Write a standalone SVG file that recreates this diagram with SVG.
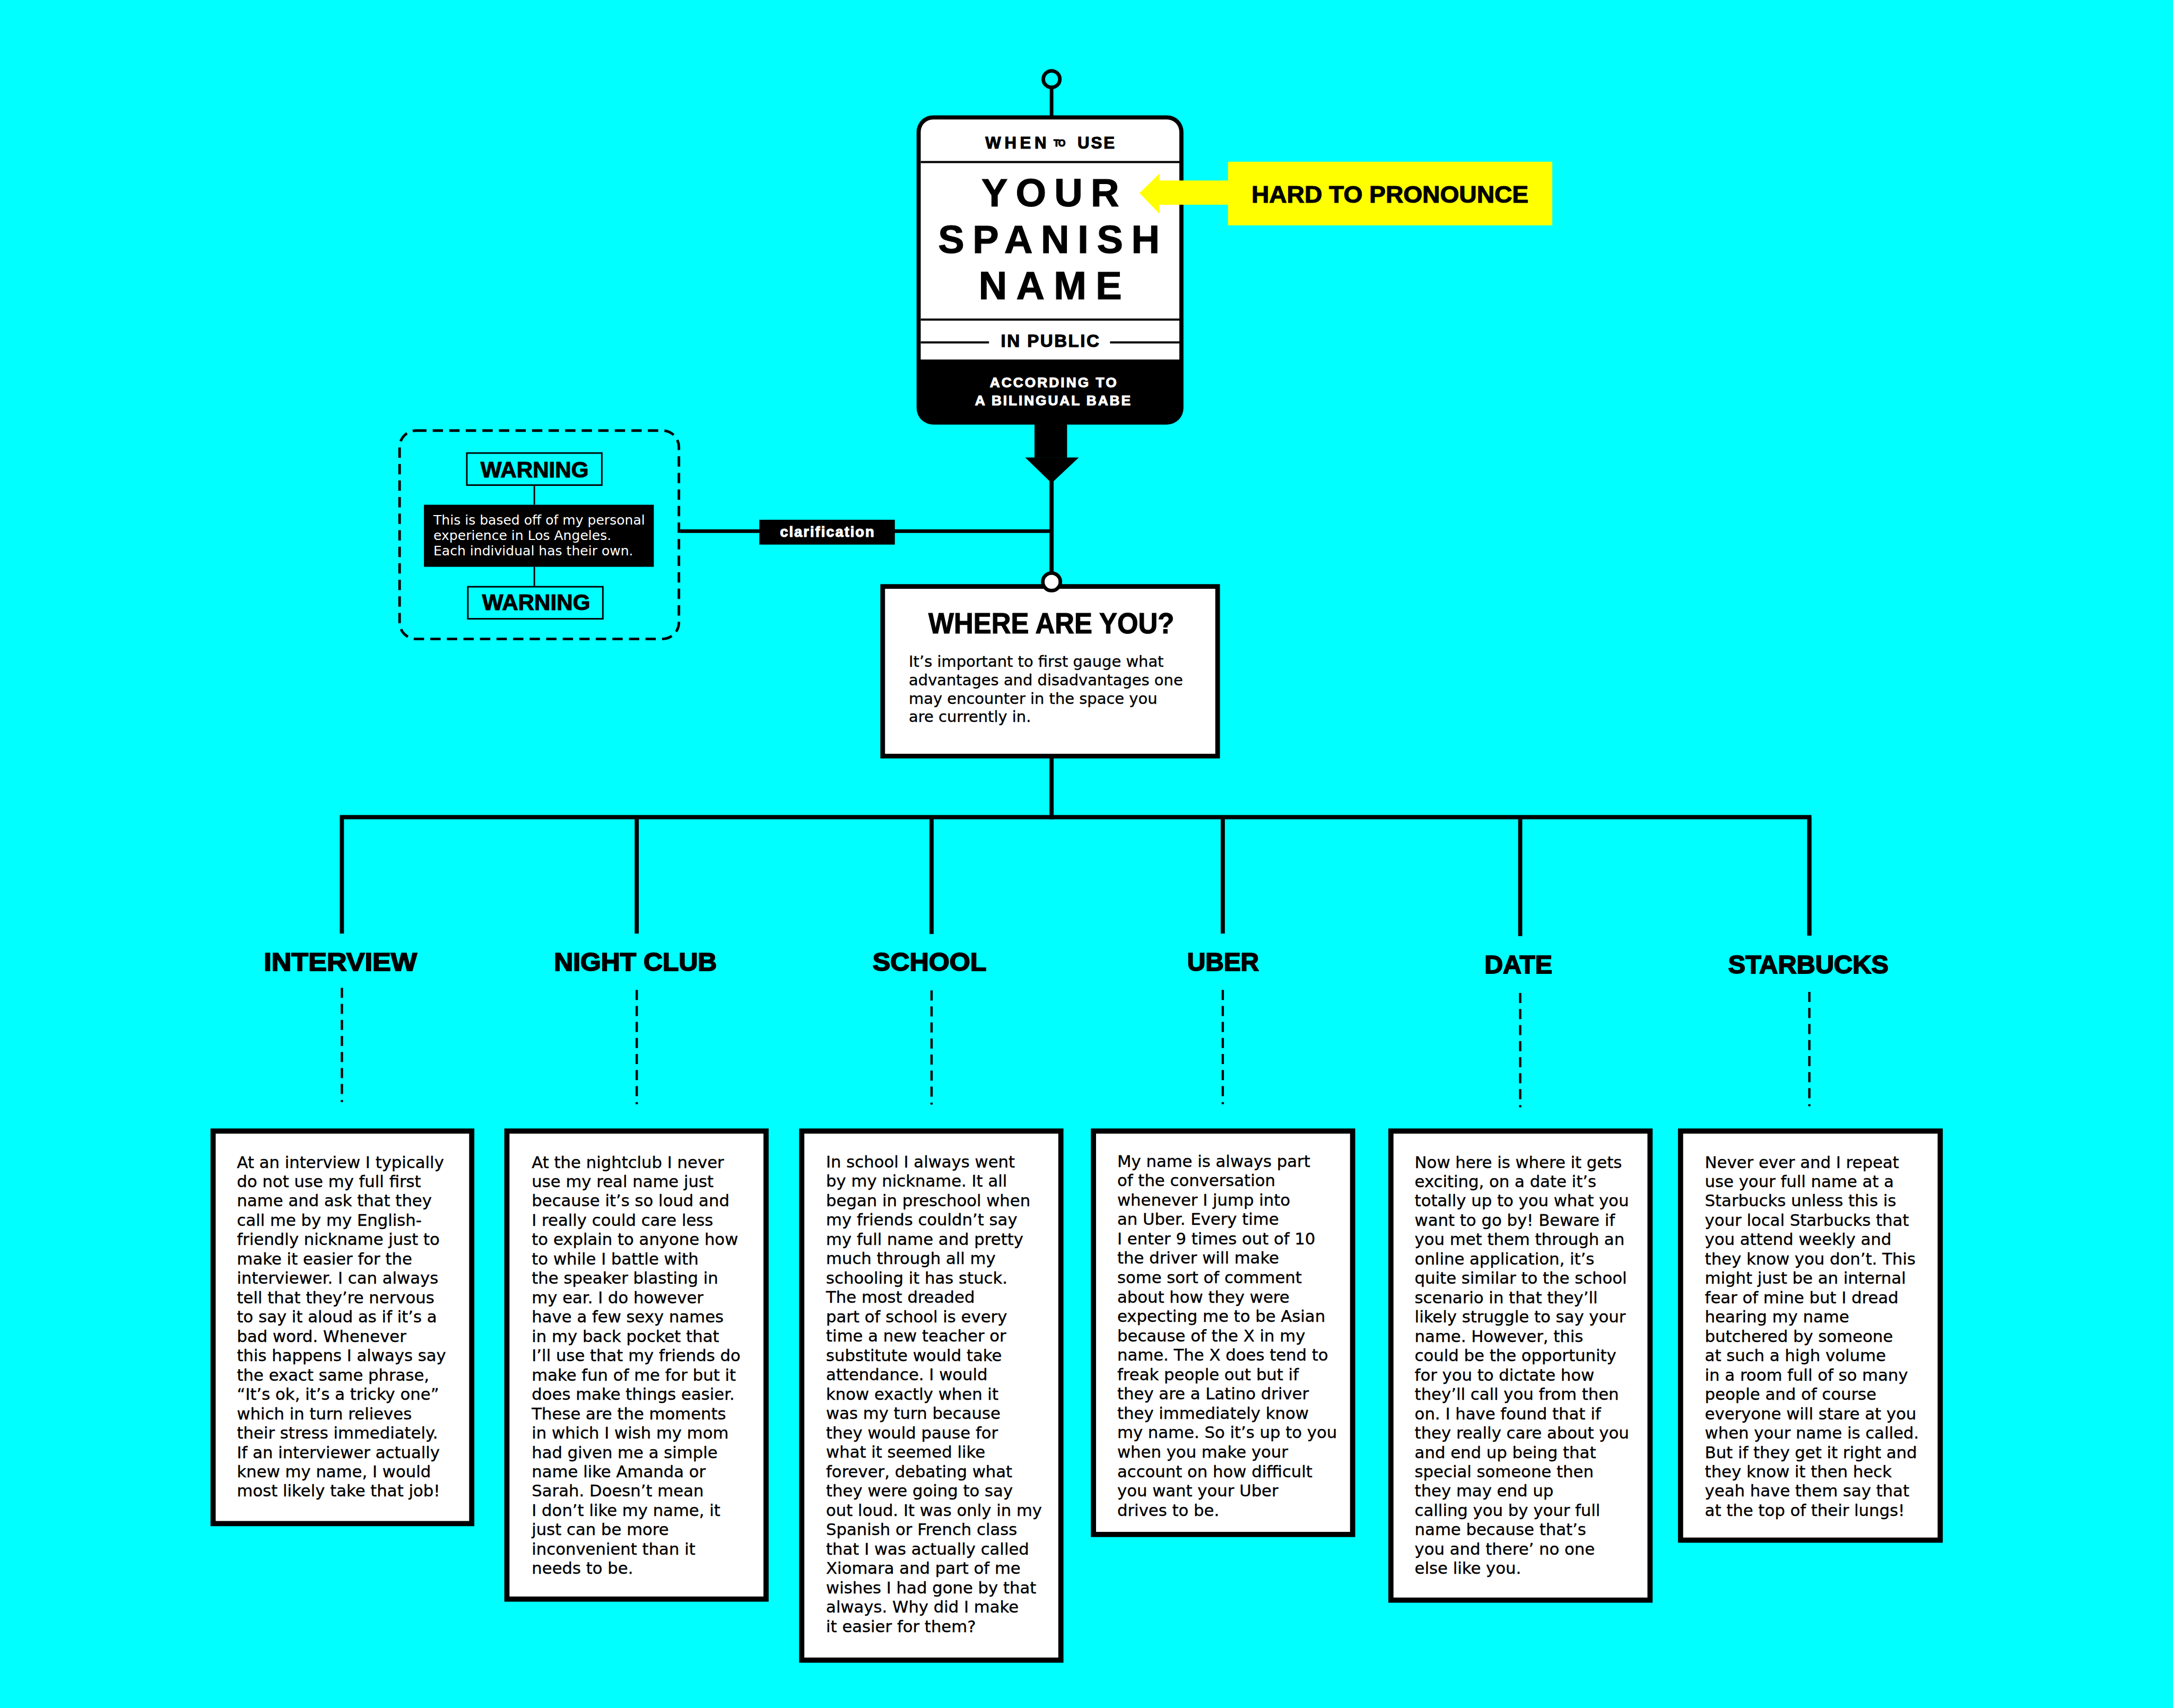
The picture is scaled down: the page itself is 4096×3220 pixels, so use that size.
<svg xmlns="http://www.w3.org/2000/svg" width="4096" height="3220" viewBox="0 0 4096 3220">
<style>
.ln{stroke:#000;fill:none}
.dash{stroke:#000;stroke-width:4.5;stroke-dasharray:19.5 11.5;fill:none}
.box{fill:#fff;stroke:#000;stroke-width:10}
.body{font-family:"DejaVu Sans","Liberation Sans",sans-serif;font-size:31.5px;fill:#000;stroke:#000;stroke-width:0.4}
.wb{font-family:"DejaVu Sans","Liberation Sans",sans-serif;font-size:25.7px;fill:#fff}
.wy{font-family:"DejaVu Sans","Liberation Sans",sans-serif;font-size:29.7px;fill:#000;stroke:#000;stroke-width:0.4}
.hd{font-family:"Liberation Sans",Arial,sans-serif;font-weight:bold;fill:#000;stroke:#000;stroke-width:1.2}
.lbl{font-family:"Liberation Sans",Arial,sans-serif;font-weight:bold;font-size:50px;fill:#000;stroke:#000;stroke-width:2}
.wh{fill:#fff;stroke:#fff}
</style>
<rect width="4096" height="3220" fill="#00FFFF"/>
<g transform="scale(0.975)">
<g id="connectors">
  <line class="ln" stroke-width="7" x1="2033" y1="169" x2="2033" y2="226"/>
  <line class="ln" stroke-width="8" x1="2033" y1="900" x2="2033" y2="1584"/>
  <line class="ln" stroke-width="7" x1="1315" y1="1027" x2="2033" y2="1027"/>
  <path class="ln" stroke-width="8" d="M661,1805 V1580 H3498 V1809"/>
  <line class="ln" stroke-width="8" x1="1231" y1="1580" x2="1231" y2="1805"/>
  <line class="ln" stroke-width="8" x1="1801" y1="1580" x2="1801" y2="1806"/>
  <line class="ln" stroke-width="8" x1="2364" y1="1580" x2="2364" y2="1805"/>
  <line class="ln" stroke-width="8" x1="2939" y1="1580" x2="2939" y2="1810"/>
  <line class="dash" x1="661" y1="1910" x2="661" y2="2131"/>
  <line class="dash" x1="1231" y1="1914" x2="1231" y2="2135"/>
  <line class="dash" x1="1801" y1="1915" x2="1801" y2="2136"/>
  <line class="dash" x1="2364" y1="1914" x2="2364" y2="2135"/>
  <line class="dash" x1="2939" y1="1920" x2="2939" y2="2141"/>
  <line class="dash" x1="3498" y1="1918" x2="3498" y2="2139"/>
</g>
<g id="sign">
  <circle cx="2033" cy="153" r="16" fill="none" stroke="#000" stroke-width="7"/>
  <rect x="1772" y="223" width="516" height="598" rx="32" fill="#000"/>
  <path d="M1780,695 V255 A24,24 0 0 1 1804,231 H2256 A24,24 0 0 1 2280,255 V695 Z" fill="#fff"/>
  <line class="ln" stroke-width="4" x1="1780" y1="313.4" x2="2280" y2="313.4"/>
  <line class="ln" stroke-width="4" x1="1780" y1="618" x2="2280" y2="618"/>
  <line class="ln" stroke-width="4" x1="1780" y1="662" x2="1912" y2="662"/>
  <line class="ln" stroke-width="4" x1="2146" y1="662" x2="2280" y2="662"/>
  <text class="hd" font-size="32" x="1905" y="287" textLength="118" lengthAdjust="spacing">WHEN</text>
  <text class="hd" font-size="18" x="2037" y="283" textLength="23" lengthAdjust="spacing">TO</text>
  <text class="hd" font-size="32" x="2083" y="287" textLength="72" lengthAdjust="spacing">USE</text>
  <text class="hd" font-size="76" stroke-width="2.5" x="1897.5" y="399" textLength="266" lengthAdjust="spacing">YOUR</text>
  <text class="hd" font-size="76" stroke-width="2.5" x="1813.6" y="489.6" textLength="428.6" lengthAdjust="spacing">SPANISH</text>
  <text class="hd" font-size="76" stroke-width="2.5" x="1892" y="578.6" textLength="277" lengthAdjust="spacing">NAME</text>
  <text class="hd" font-size="34" x="1935" y="671" textLength="190" lengthAdjust="spacing">IN PUBLIC</text>
  <text class="hd wh" font-size="27" x="1913.6" y="748.5" textLength="245" lengthAdjust="spacing">ACCORDING TO</text>
  <text class="hd wh" font-size="27" x="1885" y="784" textLength="300.7" lengthAdjust="spacing">A BILINGUAL BABE</text>
  <rect x="2000" y="815" width="63" height="70" fill="#000"/>
  <polygon points="1982,884.5 2085.7,884.5 2033,934" fill="#000"/>
</g>
<g id="hard-to-pronounce">
  <rect x="2374" y="312.7" width="627" height="123" fill="#FFFF00"/>
  <polygon points="2203,373.3 2241.6,335.7 2241.6,349 2376,349 2376,396 2241.6,396 2241.6,413.3" fill="#FFFF00"/>
  <text class="hd" font-size="46" x="2419.4" y="391.7" textLength="535.6" lengthAdjust="spacingAndGlyphs">HARD TO PRONOUNCE</text>
</g>
<g id="warning">
  <rect x="772.5" y="832.5" width="540" height="403" rx="32" fill="none" stroke="#000" stroke-width="5" stroke-dasharray="20 12"/>
  <rect x="902.5" y="876" width="261" height="62" fill="none" stroke="#000" stroke-width="3"/>
  <text class="hd" font-size="44" x="929" y="923" textLength="209" lengthAdjust="spacingAndGlyphs">WARNING</text>
  <line class="ln" stroke-width="3" x1="1033" y1="938" x2="1033" y2="976"/>
  <rect x="819.6" y="976" width="444.4" height="120" fill="#000"/>
  <text class="wb" x="838" y="1014">This is based off of my personal</text>
  <text class="wb" x="838" y="1044.3">experience in Los Angeles.</text>
  <text class="wb" x="838" y="1073.5">Each individual has their own.</text>
  <line class="ln" stroke-width="3" x1="1033" y1="1096" x2="1033" y2="1134"/>
  <rect x="904.5" y="1134.5" width="261" height="62" fill="none" stroke="#000" stroke-width="3"/>
  <text class="hd" font-size="44" x="932" y="1180" textLength="209" lengthAdjust="spacingAndGlyphs">WARNING</text>
</g>
<g id="clarification">
  <rect x="1468" y="1005" width="262" height="48" fill="#000"/>
  <text class="hd wh" font-size="28" x="1508" y="1038" textLength="182" lengthAdjust="spacing">clarification</text>
</g>
<g id="where-are-you">
  <rect x="1706.5" y="1134" width="647.5" height="328" fill="#fff" stroke="#000" stroke-width="9"/>
  <circle cx="2033" cy="1125" r="17" fill="#fff" stroke="#000" stroke-width="7"/>
  <text class="hd" font-size="56" stroke-width="2" x="1795" y="1225" textLength="475" lengthAdjust="spacingAndGlyphs">WHERE ARE YOU?</text>
  <text class="wy" x="1757" y="1289.7">It’s important to first gauge what</text>
  <text class="wy" x="1757" y="1325.2">advantages and disadvantages one</text>
  <text class="wy" x="1757" y="1360.7">may encounter in the space you</text>
  <text class="wy" x="1757" y="1396.2">are currently in.</text>
</g>
<g id="interview">
  <text class="lbl" x="510" y="1877" textLength="296" lengthAdjust="spacingAndGlyphs">INTERVIEW</text>
  <rect class="box" x="412" y="2187" width="500" height="759"/>
  <text class="body" x="458" y="2258"><tspan x="458" dy="0">At an interview I typically</tspan><tspan x="458" dy="37.4">do not use my full first</tspan><tspan x="458" dy="37.4">name and ask that they</tspan><tspan x="458" dy="37.4">call me by my English-</tspan><tspan x="458" dy="37.4">friendly nickname just to</tspan><tspan x="458" dy="37.4">make it easier for the</tspan><tspan x="458" dy="37.4">interviewer. I can always</tspan><tspan x="458" dy="37.4">tell that they’re nervous</tspan><tspan x="458" dy="37.4">to say it aloud as if it’s a</tspan><tspan x="458" dy="37.4">bad word. Whenever</tspan><tspan x="458" dy="37.4">this happens I always say</tspan><tspan x="458" dy="37.4">the exact same phrase,</tspan><tspan x="458" dy="37.4">“It’s ok, it’s a tricky one”</tspan><tspan x="458" dy="37.4">which in turn relieves</tspan><tspan x="458" dy="37.4">their stress immediately.</tspan><tspan x="458" dy="37.4">If an interviewer actually</tspan><tspan x="458" dy="37.4">knew my name, I would</tspan><tspan x="458" dy="37.4">most likely take that job!</tspan></text>
</g>
<g id="night-club">
  <text class="lbl" x="1071" y="1877" textLength="315" lengthAdjust="spacingAndGlyphs">NIGHT CLUB</text>
  <rect class="box" x="980" y="2187" width="501" height="905"/>
  <text class="body" x="1028" y="2258"><tspan x="1028" dy="0">At the nightclub I never</tspan><tspan x="1028" dy="37.4">use my real name just</tspan><tspan x="1028" dy="37.4">because it’s so loud and</tspan><tspan x="1028" dy="37.4">I really could care less</tspan><tspan x="1028" dy="37.4">to explain to anyone how</tspan><tspan x="1028" dy="37.4">to while I battle with</tspan><tspan x="1028" dy="37.4">the speaker blasting in</tspan><tspan x="1028" dy="37.4">my ear. I do however</tspan><tspan x="1028" dy="37.4">have a few sexy names</tspan><tspan x="1028" dy="37.4">in my back pocket that</tspan><tspan x="1028" dy="37.4">I’ll use that my friends do</tspan><tspan x="1028" dy="37.4">make fun of me for but it</tspan><tspan x="1028" dy="37.4">does make things easier.</tspan><tspan x="1028" dy="37.4">These are the moments</tspan><tspan x="1028" dy="37.4">in which I wish my mom</tspan><tspan x="1028" dy="37.4">had given me a simple</tspan><tspan x="1028" dy="37.4">name like Amanda or</tspan><tspan x="1028" dy="37.4">Sarah. Doesn’t mean</tspan><tspan x="1028" dy="37.4">I don’t like my name, it</tspan><tspan x="1028" dy="37.4">just can be more</tspan><tspan x="1028" dy="37.4">inconvenient than it</tspan><tspan x="1028" dy="37.4">needs to be.</tspan></text>
</g>
<g id="school">
  <text class="lbl" x="1687" y="1877" textLength="220" lengthAdjust="spacingAndGlyphs">SCHOOL</text>
  <rect class="box" x="1550" y="2187" width="501" height="1023"/>
  <text class="body" x="1597" y="2257"><tspan x="1597" dy="0">In school I always went</tspan><tspan x="1597" dy="37.45">by my nickname. It all</tspan><tspan x="1597" dy="37.45">began in preschool when</tspan><tspan x="1597" dy="37.45">my friends couldn’t say</tspan><tspan x="1597" dy="37.45">my full name and pretty</tspan><tspan x="1597" dy="37.45">much through all my</tspan><tspan x="1597" dy="37.45">schooling it has stuck.</tspan><tspan x="1597" dy="37.45">The most dreaded</tspan><tspan x="1597" dy="37.45">part of school is every</tspan><tspan x="1597" dy="37.45">time a new teacher or</tspan><tspan x="1597" dy="37.45">substitute would take</tspan><tspan x="1597" dy="37.45">attendance. I would</tspan><tspan x="1597" dy="37.45">know exactly when it</tspan><tspan x="1597" dy="37.45">was my turn because</tspan><tspan x="1597" dy="37.45">they would pause for</tspan><tspan x="1597" dy="37.45">what it seemed like</tspan><tspan x="1597" dy="37.45">forever, debating what</tspan><tspan x="1597" dy="37.45">they were going to say</tspan><tspan x="1597" dy="37.45">out loud. It was only in my</tspan><tspan x="1597" dy="37.45">Spanish or French class</tspan><tspan x="1597" dy="37.45">that I was actually called</tspan><tspan x="1597" dy="37.45">Xiomara and part of me</tspan><tspan x="1597" dy="37.45">wishes I had gone by that</tspan><tspan x="1597" dy="37.45">always. Why did I make</tspan><tspan x="1597" dy="37.45">it easier for them?</tspan></text>
</g>
<g id="uber">
  <text class="lbl" x="2295" y="1877" textLength="139" lengthAdjust="spacingAndGlyphs">UBER</text>
  <rect class="box" x="2114" y="2187" width="501" height="780"/>
  <text class="body" x="2160" y="2256"><tspan x="2160" dy="0">My name is always part</tspan><tspan x="2160" dy="37.5">of the conversation</tspan><tspan x="2160" dy="37.5">whenever I jump into</tspan><tspan x="2160" dy="37.5">an Uber. Every time</tspan><tspan x="2160" dy="37.5">I enter 9 times out of 10</tspan><tspan x="2160" dy="37.5">the driver will make</tspan><tspan x="2160" dy="37.5">some sort of comment</tspan><tspan x="2160" dy="37.5">about how they were</tspan><tspan x="2160" dy="37.5">expecting me to be Asian</tspan><tspan x="2160" dy="37.5">because of the X in my</tspan><tspan x="2160" dy="37.5">name. The X does tend to</tspan><tspan x="2160" dy="37.5">freak people out but if</tspan><tspan x="2160" dy="37.5">they are a Latino driver</tspan><tspan x="2160" dy="37.5">they immediately know</tspan><tspan x="2160" dy="37.5">my name. So it’s up to you</tspan><tspan x="2160" dy="37.5">when you make your</tspan><tspan x="2160" dy="37.5">account on how difficult</tspan><tspan x="2160" dy="37.5">you want your Uber</tspan><tspan x="2160" dy="37.5">drives to be.</tspan></text>
</g>
<g id="date">
  <text class="lbl" x="2870" y="1882" textLength="131" lengthAdjust="spacingAndGlyphs">DATE</text>
  <rect class="box" x="2689" y="2187" width="501" height="907"/>
  <text class="body" x="2735" y="2258"><tspan x="2735" dy="0">Now here is where it gets</tspan><tspan x="2735" dy="37.4">exciting, on a date it’s</tspan><tspan x="2735" dy="37.4">totally up to you what you</tspan><tspan x="2735" dy="37.4">want to go by! Beware if</tspan><tspan x="2735" dy="37.4">you met them through an</tspan><tspan x="2735" dy="37.4">online application, it’s</tspan><tspan x="2735" dy="37.4">quite similar to the school</tspan><tspan x="2735" dy="37.4">scenario in that they’ll</tspan><tspan x="2735" dy="37.4">likely struggle to say your</tspan><tspan x="2735" dy="37.4">name. However, this</tspan><tspan x="2735" dy="37.4">could be the opportunity</tspan><tspan x="2735" dy="37.4">for you to dictate how</tspan><tspan x="2735" dy="37.4">they’ll call you from then</tspan><tspan x="2735" dy="37.4">on. I have found that if</tspan><tspan x="2735" dy="37.4">they really care about you</tspan><tspan x="2735" dy="37.4">and end up being that</tspan><tspan x="2735" dy="37.4">special someone then</tspan><tspan x="2735" dy="37.4">they may end up</tspan><tspan x="2735" dy="37.4">calling you by your full</tspan><tspan x="2735" dy="37.4">name because that’s</tspan><tspan x="2735" dy="37.4">you and there’ no one</tspan><tspan x="2735" dy="37.4">else like you.</tspan></text>
</g>
<g id="starbucks">
  <text class="lbl" x="3341" y="1882" textLength="310" lengthAdjust="spacingAndGlyphs">STARBUCKS</text>
  <path class="ln" stroke-width="8" d="M3498,1580 V1809"/>
  <rect class="box" x="3249" y="2187" width="502" height="791"/>
  <text class="body" x="3296" y="2258"><tspan x="3296" dy="0">Never ever and I repeat</tspan><tspan x="3296" dy="37.4">use your full name at a</tspan><tspan x="3296" dy="37.4">Starbucks unless this is</tspan><tspan x="3296" dy="37.4">your local Starbucks that</tspan><tspan x="3296" dy="37.4">you attend weekly and</tspan><tspan x="3296" dy="37.4">they know you don’t. This</tspan><tspan x="3296" dy="37.4">might just be an internal</tspan><tspan x="3296" dy="37.4">fear of mine but I dread</tspan><tspan x="3296" dy="37.4">hearing my name</tspan><tspan x="3296" dy="37.4">butchered by someone</tspan><tspan x="3296" dy="37.4">at such a high volume</tspan><tspan x="3296" dy="37.4">in a room full of so many</tspan><tspan x="3296" dy="37.4">people and of course</tspan><tspan x="3296" dy="37.4">everyone will stare at you</tspan><tspan x="3296" dy="37.4">when your name is called.</tspan><tspan x="3296" dy="37.4">But if they get it right and</tspan><tspan x="3296" dy="37.4">they know it then heck</tspan><tspan x="3296" dy="37.4">yeah have them say that</tspan><tspan x="3296" dy="37.4">at the top of their lungs!</tspan></text>
</g>
</g>
</svg>
